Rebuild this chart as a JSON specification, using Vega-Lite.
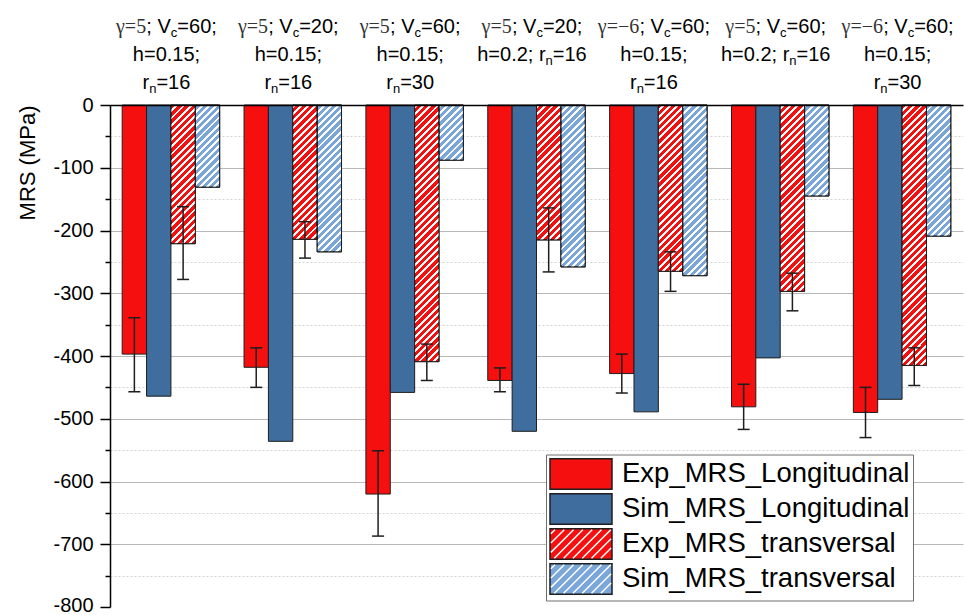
{
  "$schema": "https://vega.github.io/schema/vega-lite/v6.json",
  "width": 853,
  "height": 502,
  "autosize": {"type": "none"},
  "padding": {"left": 110, "top": 105, "right": 2, "bottom": 8},
  "background": "white",
  "config": {
    "view": {"stroke": null},
    "font": "Liberation Sans",
    "axis": {"labelFont": "Liberation Sans", "titleFont": "Liberation Sans"}
  },
  "data": {
    "values": [
      {"case": "γ=5; Vc=60; h=0.15; rn=16", "series": "Exp_MRS_Longitudinal", "value": -397, "lo": -457, "hi": -339},
      {"case": "γ=5; Vc=60; h=0.15; rn=16", "series": "Sim_MRS_Longitudinal", "value": -464},
      {"case": "γ=5; Vc=60; h=0.15; rn=16", "series": "Exp_MRS_transversal", "value": -221, "lo": -278, "hi": -162},
      {"case": "γ=5; Vc=60; h=0.15; rn=16", "series": "Sim_MRS_transversal", "value": -131},
      {"case": "γ=5; Vc=20; h=0.15; rn=16", "series": "Exp_MRS_Longitudinal", "value": -418, "lo": -450, "hi": -387},
      {"case": "γ=5; Vc=20; h=0.15; rn=16", "series": "Sim_MRS_Longitudinal", "value": -536},
      {"case": "γ=5; Vc=20; h=0.15; rn=16", "series": "Exp_MRS_transversal", "value": -214, "lo": -244, "hi": -186},
      {"case": "γ=5; Vc=20; h=0.15; rn=16", "series": "Sim_MRS_transversal", "value": -234},
      {"case": "γ=5; Vc=60; h=0.15; rn=30", "series": "Exp_MRS_Longitudinal", "value": -620, "lo": -687, "hi": -551},
      {"case": "γ=5; Vc=60; h=0.15; rn=30", "series": "Sim_MRS_Longitudinal", "value": -458},
      {"case": "γ=5; Vc=60; h=0.15; rn=30", "series": "Exp_MRS_transversal", "value": -409, "lo": -439, "hi": -381},
      {"case": "γ=5; Vc=60; h=0.15; rn=30", "series": "Sim_MRS_transversal", "value": -88},
      {"case": "γ=5; Vc=20; h=0.2; rn=16", "series": "Exp_MRS_Longitudinal", "value": -439, "lo": -457, "hi": -419},
      {"case": "γ=5; Vc=20; h=0.2; rn=16", "series": "Sim_MRS_Longitudinal", "value": -520},
      {"case": "γ=5; Vc=20; h=0.2; rn=16", "series": "Exp_MRS_transversal", "value": -215, "lo": -266, "hi": -164},
      {"case": "γ=5; Vc=20; h=0.2; rn=16", "series": "Sim_MRS_transversal", "value": -258},
      {"case": "γ=−6; Vc=60; h=0.15; rn=16", "series": "Exp_MRS_Longitudinal", "value": -428, "lo": -459, "hi": -397},
      {"case": "γ=−6; Vc=60; h=0.15; rn=16", "series": "Sim_MRS_Longitudinal", "value": -489},
      {"case": "γ=−6; Vc=60; h=0.15; rn=16", "series": "Exp_MRS_transversal", "value": -265, "lo": -297, "hi": -234},
      {"case": "γ=−6; Vc=60; h=0.15; rn=16", "series": "Sim_MRS_transversal", "value": -272},
      {"case": "γ=5; Vc=60; h=0.2; rn=16", "series": "Exp_MRS_Longitudinal", "value": -481, "lo": -517, "hi": -445},
      {"case": "γ=5; Vc=60; h=0.2; rn=16", "series": "Sim_MRS_Longitudinal", "value": -403},
      {"case": "γ=5; Vc=60; h=0.2; rn=16", "series": "Exp_MRS_transversal", "value": -297, "lo": -328, "hi": -268},
      {"case": "γ=5; Vc=60; h=0.2; rn=16", "series": "Sim_MRS_transversal", "value": -145},
      {"case": "γ=−6; Vc=60; h=0.15; rn=30", "series": "Exp_MRS_Longitudinal", "value": -490, "lo": -530, "hi": -450},
      {"case": "γ=−6; Vc=60; h=0.15; rn=30", "series": "Sim_MRS_Longitudinal", "value": -469},
      {"case": "γ=−6; Vc=60; h=0.15; rn=30", "series": "Exp_MRS_transversal", "value": -415, "lo": -447, "hi": -387},
      {"case": "γ=−6; Vc=60; h=0.15; rn=30", "series": "Sim_MRS_transversal", "value": -209}
    ]
  },
  "resolve": {"axis": {"x": "independent", "y": "independent"}},
  "layer": [
    {
      "mark": {"type": "bar", "stroke": "#1e1e1e", "strokeWidth": 1, "opacity": 1},
      "encoding": {
        "x": {
          "field": "case", "type": "nominal",
          "scale": {
            "domain": ["γ=5; Vc=60; h=0.15; rn=16", "γ=5; Vc=20; h=0.15; rn=16", "γ=5; Vc=60; h=0.15; rn=30", "γ=5; Vc=20; h=0.2; rn=16", "γ=−6; Vc=60; h=0.15; rn=16", "γ=5; Vc=60; h=0.2; rn=16", "γ=−6; Vc=60; h=0.15; rn=30"],
            "paddingInner": 0.2, "paddingOuter": 0.1
          },
          "axis": {
            "orient": "top", "title": null, "domain": true, "domainColor": "#000", "domainWidth": 1.5, "zindex": 1,
            "ticks": false, "tickSize": 0, "grid": false, "labelAngle": 0, "labelOverlap": false,
            "labelAlign": "left", "labelBaseline": "alphabetic", "labelPadding": 73,
            "labelFont": "Liberation Serif", "labelFontSize": 20, "labelColor": "#333",
            "labelExpr": "split(datum.value, '; ')[0]",
            "labelOffset": {"condition": {"test": "indexof(datum.value, '−6') >= 0", "value": -60.5}, "value": -54.9}
          }
        },
        "xOffset": {
          "field": "series", "type": "nominal",
          "scale": {"domain": ["Exp_MRS_Longitudinal", "Sim_MRS_Longitudinal", "Exp_MRS_transversal", "Sim_MRS_transversal"], "paddingInner": 0, "paddingOuter": 0}
        },
        "y": {
          "field": "value", "type": "quantitative", "stack": null,
          "scale": {"domain": [-800, 0], "nice": false, "zero": false},
          "axis": {
            "orient": "left", "values": [0, -100, -200, -300, -400, -500, -600, -700, -800],
            "title": "MRS (MPa)", "titleFontSize": 22, "titleFontWeight": "normal", "titleColor": "#000",
            "titleAnchor": "end", "titlePadding": 13,
            "labelFontSize": 20, "labelColor": "#000", "labelPadding": 7, "labelExpr": "'' + datum.value",
            "labelOffset": {"condition": {"test": "datum.value == -800", "value": -2}, "value": 0},
            "tickSize": 10, "tickWidth": 1.5, "tickColor": "#000",
            "domainColor": "#000", "domainWidth": 1.5,
            "grid": true, "gridColor": "#b8b8b8", "gridWidth": 1,
            "gridOpacity": {"condition": {"test": "datum.value == 0 || datum.value == -800", "value": 0}, "value": 1}
          }
        },
        "fill": {
          "field": "series", "type": "nominal",
          "scale": {
            "domain": ["Exp_MRS_Longitudinal", "Sim_MRS_Longitudinal", "Exp_MRS_transversal", "Sim_MRS_transversal"],
            "range": ["#f50f0f", "#3f6d9d", "#f50f0f", "#7aa6d9"]
          },
          "legend": {
            "title": null, "orient": "none", "legendX": 436, "legendY": 349.5, "direction": "vertical",
            "symbolType": "M-1,-0.98H3V0.98H-1Z", "symbolSize": 961,
            "symbolStrokeColor": "#1e1e1e", "symbolStrokeWidth": 1.5, "symbolOpacity": 1,
            "labelFont": "Liberation Sans", "labelFontSize": 27.5, "labelColor": "#000", "labelOffset": 40, "labelLimit": 500,
            "padding": 3, "rowPadding": -3.9, "fillColor": "#fff", "strokeColor": "#6e6e6e", "cornerRadius": 0
          }
        }
      }
    },
    {
      "transform": [{"filter": "datum.series == 'Exp_MRS_transversal' || datum.series == 'Sim_MRS_transversal'"}],
      "mark": {
        "type": "bar", "clip": true, "opacity": 1, "y2Offset": -263, "strokeWidth": 0,
        "fill": {
          "gradient": "linear", "x1": 0, "y1": 0, "x2": 0.1004, "y2": 1.0834,
          "stops": [
            {"offset": 0, "color": "white"}, {"offset": 0.01, "color": "white"}, {"offset": 0.01, "color": "transparent"}, {"offset": 0.025, "color": "transparent"},
            {"offset": 0.025, "color": "white"}, {"offset": 0.035, "color": "white"}, {"offset": 0.035, "color": "transparent"}, {"offset": 0.05, "color": "transparent"},
            {"offset": 0.05, "color": "white"}, {"offset": 0.06, "color": "white"}, {"offset": 0.06, "color": "transparent"}, {"offset": 0.075, "color": "transparent"},
            {"offset": 0.075, "color": "white"}, {"offset": 0.085, "color": "white"}, {"offset": 0.085, "color": "transparent"}, {"offset": 0.1, "color": "transparent"},
            {"offset": 0.1, "color": "white"}, {"offset": 0.11, "color": "white"}, {"offset": 0.11, "color": "transparent"}, {"offset": 0.125, "color": "transparent"},
            {"offset": 0.125, "color": "white"}, {"offset": 0.135, "color": "white"}, {"offset": 0.135, "color": "transparent"}, {"offset": 0.15, "color": "transparent"},
            {"offset": 0.15, "color": "white"}, {"offset": 0.16, "color": "white"}, {"offset": 0.16, "color": "transparent"}, {"offset": 0.175, "color": "transparent"},
            {"offset": 0.175, "color": "white"}, {"offset": 0.185, "color": "white"}, {"offset": 0.185, "color": "transparent"}, {"offset": 0.2, "color": "transparent"},
            {"offset": 0.2, "color": "white"}, {"offset": 0.21, "color": "white"}, {"offset": 0.21, "color": "transparent"}, {"offset": 0.225, "color": "transparent"},
            {"offset": 0.225, "color": "white"}, {"offset": 0.235, "color": "white"}, {"offset": 0.235, "color": "transparent"}, {"offset": 0.25, "color": "transparent"},
            {"offset": 0.25, "color": "white"}, {"offset": 0.26, "color": "white"}, {"offset": 0.26, "color": "transparent"}, {"offset": 0.275, "color": "transparent"},
            {"offset": 0.275, "color": "white"}, {"offset": 0.285, "color": "white"}, {"offset": 0.285, "color": "transparent"}, {"offset": 0.3, "color": "transparent"},
            {"offset": 0.3, "color": "white"}, {"offset": 0.31, "color": "white"}, {"offset": 0.31, "color": "transparent"}, {"offset": 0.325, "color": "transparent"},
            {"offset": 0.325, "color": "white"}, {"offset": 0.335, "color": "white"}, {"offset": 0.335, "color": "transparent"}, {"offset": 0.35, "color": "transparent"},
            {"offset": 0.35, "color": "white"}, {"offset": 0.36, "color": "white"}, {"offset": 0.36, "color": "transparent"}, {"offset": 0.375, "color": "transparent"},
            {"offset": 0.375, "color": "white"}, {"offset": 0.385, "color": "white"}, {"offset": 0.385, "color": "transparent"}, {"offset": 0.4, "color": "transparent"},
            {"offset": 0.4, "color": "white"}, {"offset": 0.41, "color": "white"}, {"offset": 0.41, "color": "transparent"}, {"offset": 0.425, "color": "transparent"},
            {"offset": 0.425, "color": "white"}, {"offset": 0.435, "color": "white"}, {"offset": 0.435, "color": "transparent"}, {"offset": 0.45, "color": "transparent"},
            {"offset": 0.45, "color": "white"}, {"offset": 0.46, "color": "white"}, {"offset": 0.46, "color": "transparent"}, {"offset": 0.475, "color": "transparent"},
            {"offset": 0.475, "color": "white"}, {"offset": 0.485, "color": "white"}, {"offset": 0.485, "color": "transparent"}, {"offset": 0.5, "color": "transparent"},
            {"offset": 0.5, "color": "white"}, {"offset": 0.51, "color": "white"}, {"offset": 0.51, "color": "transparent"}, {"offset": 0.525, "color": "transparent"},
            {"offset": 0.525, "color": "white"}, {"offset": 0.535, "color": "white"}, {"offset": 0.535, "color": "transparent"}, {"offset": 0.55, "color": "transparent"},
            {"offset": 0.55, "color": "white"}, {"offset": 0.56, "color": "white"}, {"offset": 0.56, "color": "transparent"}, {"offset": 0.575, "color": "transparent"},
            {"offset": 0.575, "color": "white"}, {"offset": 0.585, "color": "white"}, {"offset": 0.585, "color": "transparent"}, {"offset": 0.6, "color": "transparent"},
            {"offset": 0.6, "color": "white"}, {"offset": 0.61, "color": "white"}, {"offset": 0.61, "color": "transparent"}, {"offset": 0.625, "color": "transparent"},
            {"offset": 0.625, "color": "white"}, {"offset": 0.635, "color": "white"}, {"offset": 0.635, "color": "transparent"}, {"offset": 0.65, "color": "transparent"},
            {"offset": 0.65, "color": "white"}, {"offset": 0.66, "color": "white"}, {"offset": 0.66, "color": "transparent"}, {"offset": 0.675, "color": "transparent"},
            {"offset": 0.675, "color": "white"}, {"offset": 0.685, "color": "white"}, {"offset": 0.685, "color": "transparent"}, {"offset": 0.7, "color": "transparent"},
            {"offset": 0.7, "color": "white"}, {"offset": 0.71, "color": "white"}, {"offset": 0.71, "color": "transparent"}, {"offset": 0.725, "color": "transparent"},
            {"offset": 0.725, "color": "white"}, {"offset": 0.735, "color": "white"}, {"offset": 0.735, "color": "transparent"}, {"offset": 0.75, "color": "transparent"},
            {"offset": 0.75, "color": "white"}, {"offset": 0.76, "color": "white"}, {"offset": 0.76, "color": "transparent"}, {"offset": 0.775, "color": "transparent"},
            {"offset": 0.775, "color": "white"}, {"offset": 0.785, "color": "white"}, {"offset": 0.785, "color": "transparent"}, {"offset": 0.8, "color": "transparent"},
            {"offset": 0.8, "color": "white"}, {"offset": 0.81, "color": "white"}, {"offset": 0.81, "color": "transparent"}, {"offset": 0.825, "color": "transparent"},
            {"offset": 0.825, "color": "white"}, {"offset": 0.835, "color": "white"}, {"offset": 0.835, "color": "transparent"}, {"offset": 0.85, "color": "transparent"},
            {"offset": 0.85, "color": "white"}, {"offset": 0.86, "color": "white"}, {"offset": 0.86, "color": "transparent"}, {"offset": 0.875, "color": "transparent"},
            {"offset": 0.875, "color": "white"}, {"offset": 0.885, "color": "white"}, {"offset": 0.885, "color": "transparent"}, {"offset": 0.9, "color": "transparent"},
            {"offset": 0.9, "color": "white"}, {"offset": 0.91, "color": "white"}, {"offset": 0.91, "color": "transparent"}, {"offset": 0.925, "color": "transparent"},
            {"offset": 0.925, "color": "white"}, {"offset": 0.935, "color": "white"}, {"offset": 0.935, "color": "transparent"}, {"offset": 0.95, "color": "transparent"},
            {"offset": 0.95, "color": "white"}, {"offset": 0.96, "color": "white"}, {"offset": 0.96, "color": "transparent"}, {"offset": 0.975, "color": "transparent"},
            {"offset": 0.975, "color": "white"}, {"offset": 0.985, "color": "white"}, {"offset": 0.985, "color": "transparent"}, {"offset": 1, "color": "transparent"}
          ]
        }
      },
      "encoding": {
        "x": {
          "field": "case", "type": "nominal",
          "axis": {
            "orient": "top", "title": null, "domain": false, "ticks": false, "tickSize": 0, "grid": false, "labelAngle": 0, "labelOverlap": false,
            "labelAlign": "left", "labelBaseline": "alphabetic", "labelPadding": 73, "labelFontSize": 20, "labelColor": "#000",
            "labelExpr": "'; V'",
            "labelOffset": {"condition": {"test": "indexof(datum.value, '−6') >= 0", "value": -18.9}, "value": -24.6}
          }
        },
        "xOffset": {"field": "series", "type": "nominal"},
        "y": {
          "field": "value", "type": "quantitative",
          "axis": {
            "orient": "left", "values": [-50, -150, -250, -350, -450, -550, -650, -750], "title": null,
            "labels": false, "domain": false, "tickSize": 5, "tickWidth": 1.5, "tickColor": "#000",
            "grid": true, "gridColor": "#d2d2d2", "gridDash": [2, 2], "gridWidth": 1
          }
        },
        "y2": {"field": "value"}
      }
    },
    {
      "transform": [{"filter": "datum.series == 'Exp_MRS_transversal' || datum.series == 'Sim_MRS_transversal'"}],
      "mark": {"type": "bar", "fill": "transparent", "stroke": "#1e1e1e", "strokeWidth": 1, "opacity": 1},
      "encoding": {
        "x": {
          "field": "case", "type": "nominal",
          "axis": {
            "orient": "top", "title": null, "domain": false, "ticks": false, "tickSize": 0, "grid": false, "labelAngle": 0, "labelOverlap": false,
            "labelAlign": "left", "labelBaseline": "alphabetic", "labelPadding": 69, "labelFontSize": 13, "labelColor": "#000",
            "labelExpr": "'c'",
            "labelOffset": {"condition": {"test": "indexof(datum.value, '−6') >= 0", "value": 5.6}, "value": -0.1}
          }
        },
        "xOffset": {"field": "series", "type": "nominal"},
        "y": {"field": "value", "type": "quantitative", "stack": null, "axis": null}
      }
    },
    {
      "transform": [{"filter": "isValid(datum.lo)"}],
      "mark": {"type": "rule", "color": "#1e1e1e", "strokeWidth": 1.5},
      "encoding": {
        "x": {
          "field": "case", "type": "nominal",
          "axis": {
            "orient": "top", "title": null, "domain": false, "ticks": false, "tickSize": 0, "grid": false, "labelAngle": 0, "labelOverlap": false,
            "labelAlign": "left", "labelBaseline": "alphabetic", "labelPadding": 73, "labelFontSize": 20, "labelColor": "#000",
            "labelExpr": "replace(split(datum.value, '; ')[1], 'Vc', '') + ';'",
            "labelOffset": {"condition": {"test": "indexof(datum.value, '−6') >= 0", "value": 12.1}, "value": 6.4}
          }
        },
        "xOffset": {"field": "series", "type": "nominal"},
        "y": {"field": "lo", "type": "quantitative", "axis": null},
        "y2": {"field": "hi"}
      }
    },
    {
      "transform": [{"filter": "isValid(datum.lo)"}],
      "mark": {"type": "tick", "color": "#1e1e1e", "size": 12, "thickness": 1.5, "orient": "horizontal", "opacity": 1},
      "encoding": {
        "x": {
          "field": "case", "type": "nominal",
          "axis": {
            "orient": "top", "title": null, "domain": false, "ticks": false, "tickSize": 0, "grid": false, "labelAngle": 0, "labelOverlap": false,
            "labelAlign": "left", "labelBaseline": "alphabetic", "labelPadding": 45, "labelFontSize": 20, "labelColor": "#000",
            "labelExpr": "indexof(datum.value, 'h=0.2;') >= 0 ? 'h=0.2; r' : split(datum.value, '; ')[2] + ';'",
            "labelOffset": {"condition": {"test": "indexof(datum.value, 'h=0.2;') >= 0", "value": -59.3}, "value": -38.1}
          }
        },
        "xOffset": {"field": "series", "type": "nominal"},
        "y": {"field": "lo", "type": "quantitative", "axis": null}
      }
    },
    {
      "transform": [{"filter": "isValid(datum.hi)"}],
      "mark": {"type": "tick", "color": "#1e1e1e", "size": 12, "thickness": 1.5, "orient": "horizontal", "opacity": 1},
      "encoding": {
        "x": {
          "field": "case", "type": "nominal",
          "axis": {
            "orient": "top", "title": null, "domain": false, "ticks": false, "tickSize": 0, "grid": false, "labelAngle": 0, "labelOverlap": false,
            "labelAlign": "left", "labelBaseline": "alphabetic", "labelPadding": 41, "labelFontSize": 13, "labelColor": "#000",
            "labelExpr": "indexof(datum.value, 'h=0.2;') >= 0 ? 'n' : ''",
            "labelOffset": 9.1
          }
        },
        "xOffset": {"field": "series", "type": "nominal"},
        "y": {"field": "hi", "type": "quantitative", "axis": null}
      }
    },
    {
      "transform": [{"filter": "false"}],
      "mark": {"type": "point", "opacity": 1, "strokeWidth": 1.5},
      "encoding": {
        "x": {
          "field": "case", "type": "nominal",
          "axis": {
            "orient": "top", "title": null, "domain": false, "ticks": false, "tickSize": 0, "grid": false, "labelAngle": 0, "labelOverlap": false,
            "labelAlign": "left", "labelBaseline": "alphabetic", "labelPadding": 45, "labelFontSize": 20, "labelColor": "#000",
            "labelExpr": "indexof(datum.value, 'h=0.2;') >= 0 ? replace(split(datum.value, '; ')[3], 'rn', '') : ''",
            "labelOffset": 16.3
          }
        },
        "y": {"field": "value", "type": "quantitative", "axis": null},
        "shape": {
          "field": "series", "type": "nominal",
          "scale": {
            "domain": ["Exp_MRS_Longitudinal", "Sim_MRS_Longitudinal", "Exp_MRS_transversal", "Sim_MRS_transversal", "zz"],
            "range": [
              "M-1,-0.98M3,0.98",
              "M-1,-0.98M3,0.98",
              "M-1,-0.98M3,0.98M-0.94,-0.66L-0.68,-0.92M-0.94,-0.06L-0.08,-0.92M-0.94,0.54L0.52,-0.92M-0.72,0.92L1.12,-0.92M-0.12,0.92L1.72,-0.92M0.48,0.92L2.32,-0.92M1.08,0.92L2.92,-0.92M1.68,0.92L2.94,-0.34M2.28,0.92L2.94,0.26",
              "M-1,-0.98M3,0.98M-0.94,-0.66L-0.68,-0.92M-0.94,-0.06L-0.08,-0.92M-0.94,0.54L0.52,-0.92M-0.72,0.92L1.12,-0.92M-0.12,0.92L1.72,-0.92M0.48,0.92L2.32,-0.92M1.08,0.92L2.92,-0.92M1.68,0.92L2.94,-0.34M2.28,0.92L2.94,0.26",
              "M-1,-0.98M3,0.98"
            ]
          },
          "legend": {
            "title": null, "orient": "none", "legendX": 436, "legendY": 349.5, "direction": "vertical",
            "symbolSize": 961,
            "symbolStrokeColor": "#ffffff", "symbolStrokeWidth": 1.5, "symbolFillColor": "transparent", "symbolOpacity": 1,
            "labelFont": "Liberation Sans", "labelFontSize": 27.5, "labelColor": "#000", "labelOpacity": 0, "labelOffset": 40, "labelLimit": 500,
            "padding": 3, "rowPadding": -3.9
          }
        }
      }
    },
    {
      "transform": [{"filter": "false"}],
      "mark": {"type": "tick", "opacity": 1},
      "encoding": {
        "x": {
          "field": "case", "type": "nominal",
          "axis": {
            "orient": "top", "title": null, "domain": false, "ticks": false, "tickSize": 0, "grid": false, "labelAngle": 0, "labelOverlap": false,
            "labelAlign": "left", "labelBaseline": "alphabetic", "labelPadding": 17, "labelFontSize": 20, "labelColor": "#000",
            "labelExpr": "indexof(datum.value, 'h=0.2;') >= 0 ? '' : 'r'",
            "labelOffset": -28.4
          }
        },
        "y": {"field": "value", "type": "quantitative", "axis": null}
      }
    },
    {
      "transform": [{"filter": "false"}],
      "mark": {"type": "tick", "opacity": 1},
      "encoding": {
        "x": {
          "field": "case", "type": "nominal",
          "axis": {
            "orient": "top", "title": null, "domain": false, "ticks": false, "tickSize": 0, "grid": false, "labelAngle": 0, "labelOverlap": false,
            "labelAlign": "left", "labelBaseline": "alphabetic", "labelPadding": 13, "labelFontSize": 13, "labelColor": "#000",
            "labelExpr": "indexof(datum.value, 'h=0.2;') >= 0 ? '' : 'n'",
            "labelOffset": -21.7
          }
        },
        "y": {"field": "value", "type": "quantitative", "axis": null}
      }
    },
    {
      "transform": [{"filter": "false"}],
      "mark": {"type": "tick", "opacity": 1},
      "encoding": {
        "x": {
          "field": "case", "type": "nominal",
          "axis": {
            "orient": "top", "title": null, "domain": false, "ticks": false, "tickSize": 0, "grid": false, "labelAngle": 0, "labelOverlap": false,
            "labelAlign": "left", "labelBaseline": "alphabetic", "labelPadding": 17, "labelFontSize": 20, "labelColor": "#000",
            "labelExpr": "indexof(datum.value, 'h=0.2;') >= 0 ? '' : replace(split(datum.value, '; ')[3], 'rn', '')",
            "labelOffset": -14.5
          }
        },
        "y": {"field": "value", "type": "quantitative", "axis": null}
      }
    }
  ]
}
